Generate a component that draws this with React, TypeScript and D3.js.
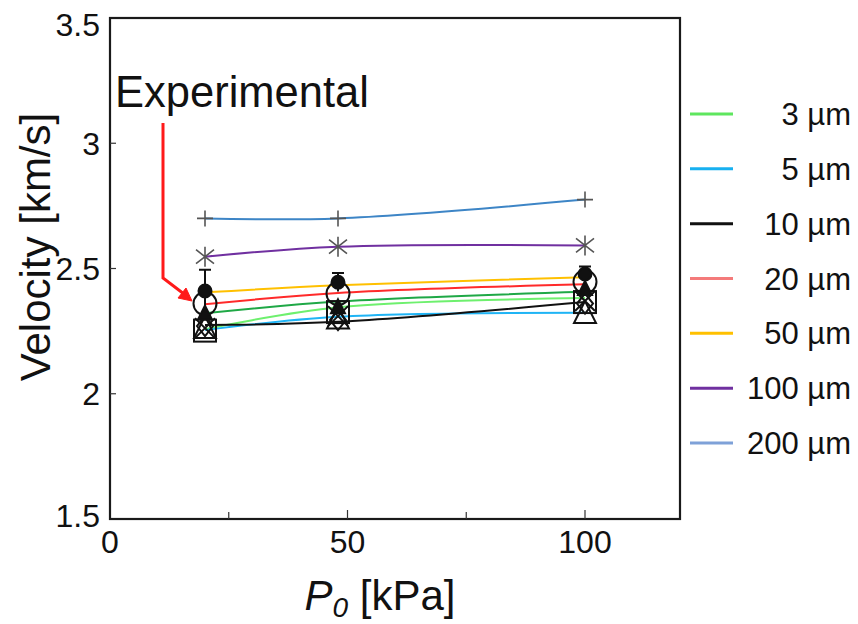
import React from "react";
import * as d3 from "d3";

// ---- data ----
const pressures = [20, 48, 100];

const simLabels = ["200 µm", "100 µm", "50 µm", "20 µm", "extra", "3 µm", "5 µm", "10 µm"];
const sim200 = [2.70, 2.70, 2.775];
const sim100 = [2.547, 2.587, 2.592];
const sim50 = [2.405, 2.433, 2.465];
const sim20 = [2.357, 2.402, 2.437];
const simExtra = [2.321, 2.368, 2.407];
const sim3 = [2.258, 2.345, 2.382];
const sim5 = [2.254, 2.307, 2.323];
const sim10 = [2.274, 2.287, 2.366];

const expMean = [2.41, 2.445, 2.478];
const expErr = [0.085, 0.037, 0.03];
const expOpenCircle = [2.36, 2.40, 2.447];
const expFilledTri = [2.32, 2.345, 2.418];
const expSquare = [2.252, 2.326, 2.366];
const expOpenTri = [2.262, 2.30, 2.322];
const expDiamond = [2.27, 2.294, 2.36];
const expCross = [2.262, 2.31, 2.37];

const legendLabels = ["3 µm", "5 µm", "10 µm", "20 µm", "50 µm", "100 µm", "200 µm"];
const legendColors = ["#5ee65e", "#17b0f0", "#111111", "#f47a7a", "#ffc000", "#7030a0", "#7ea1d8"];

const yTickValues = [1.5, 2, 2.5, 3, 3.5];
const yTickLabels = ["1.5", "2", "2.5", "3", "3.5"];
const xTickValues = [0, 50, 100];
const xMinorTicks = [25, 75];

// ---- layout ----
const W = 858, H = 624;
const L = 110, R = 680, T = 18, B = 519;
const FONT = "'Liberation Sans', Arial, sans-serif";

export default function App() {
  const x = d3.scaleLinear().domain([0, 120]).range([L, R]);
  const y = d3.scaleLinear().domain([1.5, 3.5]).range([B, T]);
  const line = d3
    .line<[number, number]>()
    .x((d) => x(d[0]))
    .y((d) => y(d[1]))
    .curve(d3.curveCatmullRom.alpha(0.5));

  const simData = [sim200, sim100, sim50, sim20, simExtra, sim3, sim5, sim10];
  const simColors = ["#3d85c6", "#7030a0", "#ffc000", "#ff2a2a", "#1fa846", "#6ef06e", "#1fb4f5", "#111111"];

  const pts = (vals: number[]) => pressures.map((p, i) => [p, vals[i]] as [number, number]);

  const legendY = d3.scalePoint<string>().domain(legendLabels).range([114, 443]);

  const blk = "#111";

  return (
    <svg
      width={W}
      height={H}
      style={{ position: "absolute", left: 0, top: 0, background: "#fff" }}
      fontFamily={FONT}
    >
      <rect x={0} y={0} width={W} height={H} fill="#fff" />

      {/* simulation lines */}
      {simData.map((vals, i) => (
        <path
          key={simLabels[i]}
          d={line(pts(vals)) || ""}
          fill="none"
          stroke={simColors[i]}
          strokeWidth={2}
        />
      ))}

      {/* plus markers (200 µm) */}
      {pts(sim200).map(([p, v], i) => (
        <path
          key={"plus" + i}
          transform={`translate(${x(p)},${y(v)})`}
          d="M-8,0H8M0,-8V8"
          stroke="#555"
          strokeWidth={1.6}
          fill="none"
        />
      ))}
      {/* asterisk markers (100 µm) */}
      {pts(sim100).map(([p, v], i) => (
        <path
          key={"ast" + i}
          transform={`translate(${x(p)},${y(v)})`}
          d="M0,-10V10M-9,-7L9,7M-9,7L9,-7"
          stroke="#555"
          strokeWidth={1.6}
          fill="none"
        />
      ))}

      {/* experimental markers */}
      <g stroke={blk} strokeWidth={2} fill="none">
        {pts(expSquare).map(([p, v], i) => (
          <rect key={"sq" + i} x={x(p) - 11} y={y(v) - 11} width={22} height={22} />
        ))}
        {pts(expCross).map(([p, v], i) => (
          <path key={"cr" + i} transform={`translate(${x(p)},${y(v)})`} d="M-10,-10L10,10M-10,10L10,-10" />
        ))}
        {pts(expOpenTri).map(([p, v], i) => (
          <path key={"ot" + i} transform={`translate(${x(p)},${y(v)})`} d="M0,-12L11,10H-11Z" />
        ))}
        {pts(expDiamond).map(([p, v], i) => (
          <path key={"di" + i} transform={`translate(${x(p)},${y(v)})`} d="M0,-10L8,0L0,10L-8,0Z" />
        ))}
        {pts(expOpenCircle).map(([p, v], i) => (
          <circle key={"oc" + i} cx={x(p)} cy={y(v)} r={11.5} />
        ))}
        {pts(expFilledTri).map(([p, v], i) => (
          <path key={"ft" + i} transform={`translate(${x(p)},${y(v)})`} d="M0,-8L7,6H-7Z" fill={blk} />
        ))}
        {pts(expMean).map(([p, v], i) => (
          <g key={"mean" + i}>
            <line x1={x(p)} x2={x(p)} y1={y(v - expErr[i])} y2={y(v + expErr[i])} />
            <line x1={x(p) - 6} x2={x(p) + 6} y1={y(v + expErr[i])} y2={y(v + expErr[i])} />
            <circle cx={x(p)} cy={y(v)} r={6.5} fill={blk} />
          </g>
        ))}
      </g>

      {/* frame */}
      <rect x={L} y={T} width={R - L} height={B - T} fill="none" stroke="#1a1a1a" strokeWidth={2.2} />

      {/* y ticks */}
      {yTickValues.map((v, i) => (
        <g key={"yt" + i}>
          {v > 1.5 && v < 3.5 && (
            <line x1={L} x2={L + 6} y1={y(v)} y2={y(v)} stroke="#333" strokeWidth={1.2} />
          )}
          <text
            x={100}
            y={Math.min(Math.max(y(v), T + 6), B - 4)}
            dy="0.36em"
            textAnchor="end"
            fontSize={32}
            fill="#111"
          >
            {yTickLabels[i]}
          </text>
        </g>
      ))}

      {/* x ticks */}
      {xTickValues.map((v) => (
        <g key={"xt" + v}>
          {v > 0 && <line x1={x(v)} x2={x(v)} y1={B} y2={B - 9} stroke="#333" strokeWidth={1.2} />}
          <text x={x(v)} y={553} textAnchor="middle" fontSize={32} fill="#111">
            {String(v)}
          </text>
        </g>
      ))}
      {xMinorTicks.map((v) => (
        <line key={"xm" + v} x1={x(v)} x2={x(v)} y1={B} y2={B - 7} stroke="#333" strokeWidth={1.2} />
      ))}

      {/* axis titles */}
      <text
        transform={`translate(50,${247}) rotate(-90)`}
        textAnchor="middle"
        fontSize={42}
        fill="#111"
      >
        Velocity [km/s]
      </text>
      <text x={380} y={610} textAnchor="middle" fontSize={42} fill="#111">
        <tspan fontStyle="italic">P</tspan>
        <tspan fontStyle="italic" fontSize={28} dy={7}>0</tspan>
        <tspan dy={-7}> [kPa]</tspan>
      </text>

      {/* annotation */}
      <text x={115} y={107} fontSize={43.5} fill="#111">
        Experimental
      </text>
      <polyline points="163,123 163,278 184,294" fill="none" stroke="#ff1a1a" strokeWidth={3} />
      <path d="M192,301 L178,298 L186,288 Z" fill="#ff1a1a" stroke="#ff1a1a" strokeWidth={1} />

      {/* legend */}
      {legendLabels.map((lab, i) => (
        <g key={"lg" + lab}>
          <line
            x1={690}
            x2={733}
            y1={legendY(lab)}
            y2={legendY(lab)}
            stroke={legendColors[i]}
            strokeWidth={3}
          />
          <text
            x={851}
            y={legendY(lab)}
            dy="0.36em"
            textAnchor="end"
            fontSize={31}
            fill="#111"
          >
            {lab}
          </text>
        </g>
      ))}
    </svg>
  );
}
